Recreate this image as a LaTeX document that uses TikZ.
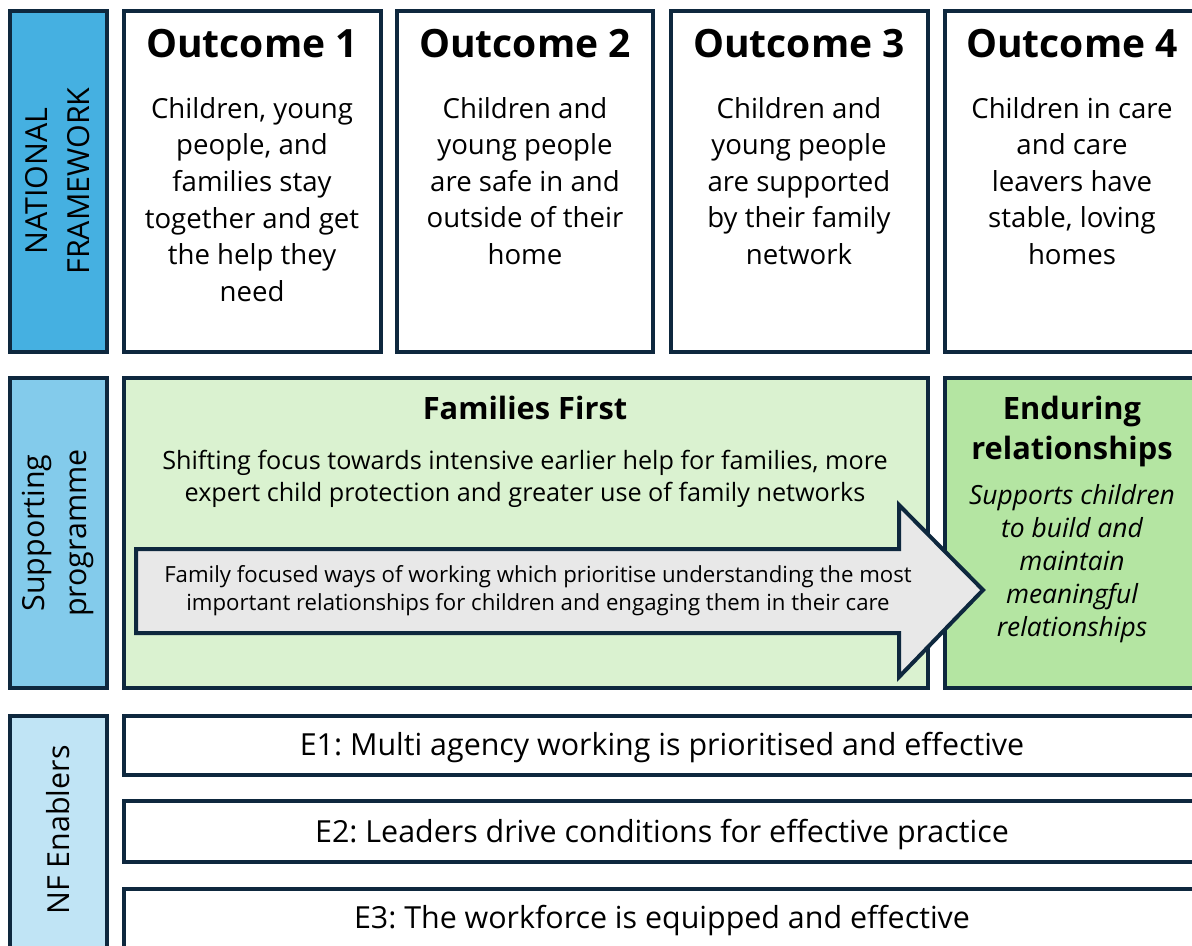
\documentclass[tikz,border=0pt]{standalone}
\usepackage{fontspec}
\setmainfont{Open Sans}
\frenchspacing
\definecolor{navy}{RGB}{14,40,62}
\definecolor{blueA}{RGB}{69,176,225}
\definecolor{blueB}{RGB}{131,203,235}
\definecolor{blueC}{RGB}{192,228,245}
\definecolor{greenA}{RGB}{218,242,208}
\definecolor{greenB}{RGB}{180,229,162}
\definecolor{greyA}{RGB}{232,232,232}

\begin{document}
\begin{tikzpicture}
[x=0.5pt,y=-0.5pt,
 frame/.style={draw=navy,line width=2pt},
 head/.style={font=\fontsize{19.5}{20}\selectfont\bfseries},
 subhead/.style={align=center,font=\fontsize{15.4}{20}\selectfont\bfseries},
 body/.style={align=center,font=\fontsize{13.8}{18.3}\selectfont},
 side/.style={rotate=90,align=center,font=\fontsize{15.2}{21}\selectfont},
 enabler/.style={font=\fontsize{15.2}{16}\selectfont}]
\useasboundingbox (0,0) rectangle (1192,946);
\clip (0,0) rectangle (1192,946);

% left column
\draw[frame,fill=blueA] (9.5,11) rectangle (107,352);
\draw[frame,fill=blueB] (9.5,378) rectangle (107,688);
\draw[frame,fill=blueC] (9.5,716) rectangle (107,960);
\node[side] (natfw) at (58,181) {NATIONAL\\FRAMEWORK};
\node[side] (supprog) at (58,533) {Supporting\\programme};
\node[side] (nfen) at (58,830) {NF Enablers};

% outcomes
\foreach \xa/\xb in {123.5/380.5,397/653,671/928,945/1210}
  \draw[frame,fill=white] (\xa,11) rectangle (\xb,352);
\node[head] (oc1) at (252,44) {Outcome 1};
\node[head] (oc2) at (525,44) {Outcome 2};
\node[head] (oc3) at (799,44) {Outcome 3};
\node[head] (oc4) at (1072,44) {Outcome 4};
\node[body] (ot1) at (252,199.5) {Children, young\\people, and\\families stay\\together and get\\the help they\\need};
\node[body] (ot2) at (525,181) {Children and\\young people\\are safe in and\\outside of their\\home};
\node[body] (ot3) at (799,181) {Children and\\young people\\are supported\\by their family\\network};
\node[body] (ot4) at (1072,181) {Children in care\\and care\\leavers have\\stable, loving\\homes};

% supporting programme
\draw[frame,fill=greenA] (123.5,378) rectangle (928,688);
\draw[frame,fill=greenB] (945,378) rectangle (1210,688);
\node[subhead] (ff) at (525,408) {Families First};
\node[body,font=\fontsize{12.6}{16}\selectfont] (ffsub) at (525,479)
  {Shifting focus towards intensive earlier help for families, more\\expert child protection and greater use of family networks};
\draw[frame,fill=greyA] (136,549) -- (899,549) -- (899,505) -- (983,590)
  -- (899,677) -- (899,633) -- (136,633) -- cycle;
\node[body,font=\fontsize{11.1}{14}\selectfont] (arrtxt) at (538,591)
  {Family focused ways of working which prioritise understanding the most\\important relationships for children and engaging them in their care};
\node[subhead] (endur) at (1072,431) {Enduring\\relationships};
\node[body,font=\fontsize{13.2}{16.5}\selectfont\itshape] (endtxt) at (1072,564)
  {Supports children\\to build and\\maintain\\meaningful\\relationships};

% enablers
\foreach \ya/\yb in {716/775,801/862,889/960}
  \draw[frame,fill=white] (123.5,\ya) rectangle (1210,\yb);
\node[enabler] (en1) at (662,748) {E1: Multi agency working is prioritised and effective};
\node[enabler] (en2) at (662,835) {E2: Leaders drive conditions for effective practice};
\node[enabler] (en3) at (662,921) {E3: The workforce is equipped and effective};
\end{tikzpicture}
\end{document}
